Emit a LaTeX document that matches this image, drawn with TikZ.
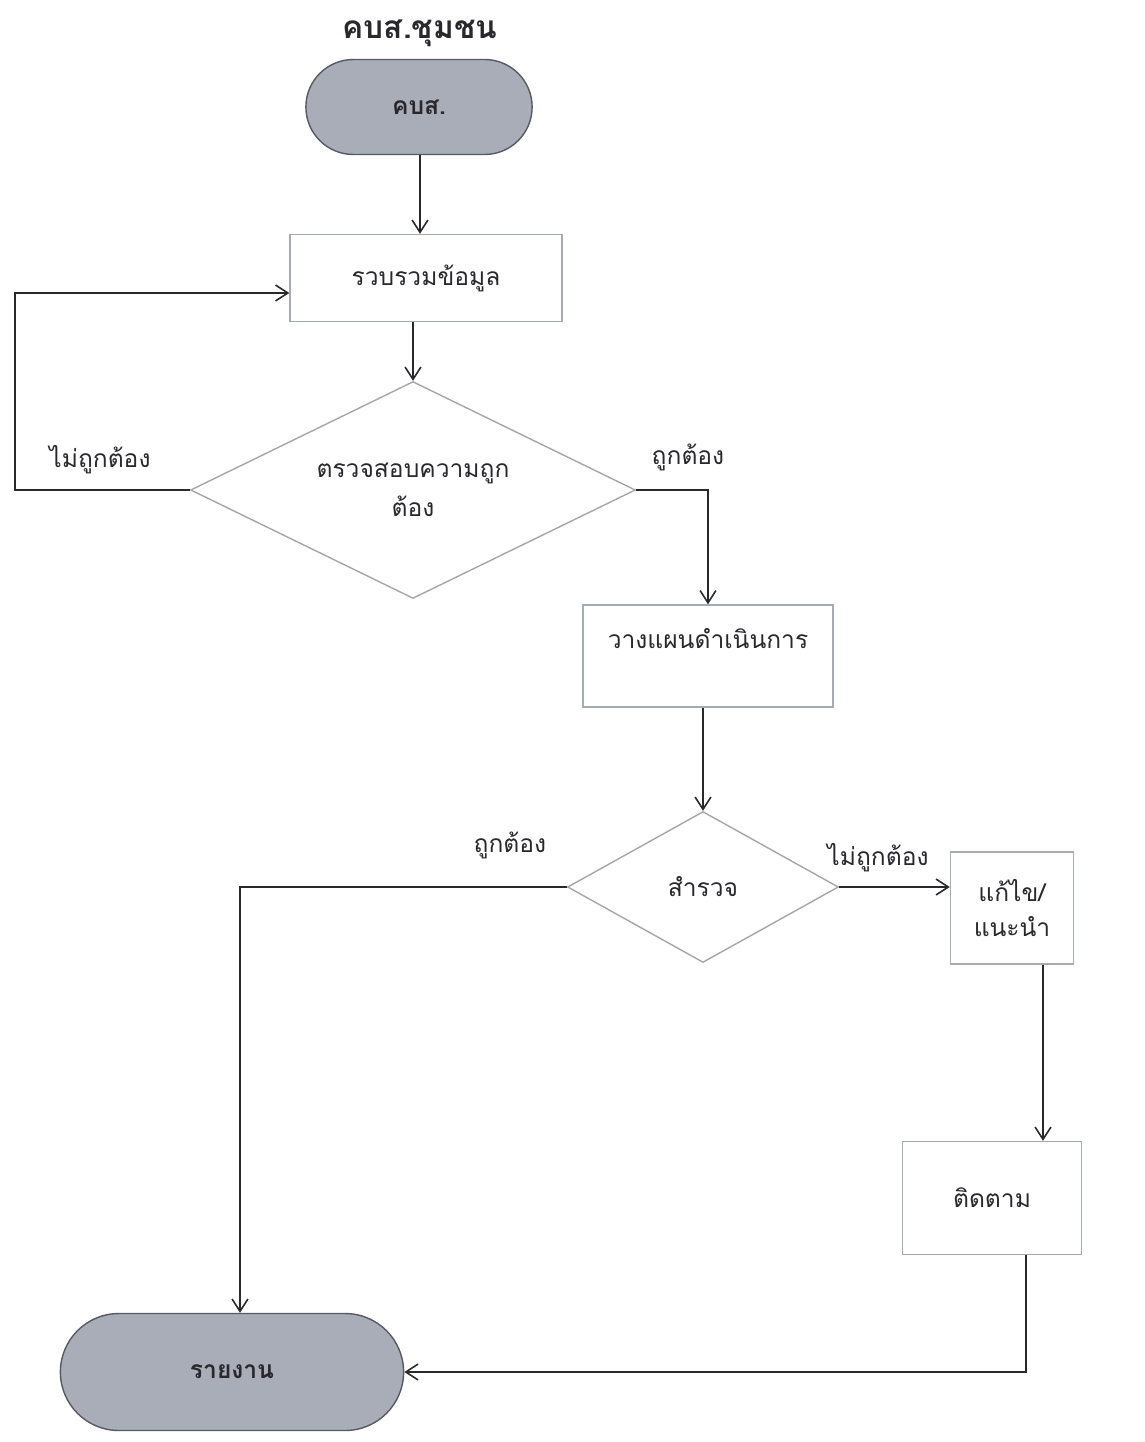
\documentclass[tikz,border=0pt]{standalone}
\usepackage{fontspec}
\setmainfont[Script=Thai]{Loma}
\usetikzlibrary{shapes.geometric,shapes.misc,arrows.meta}
\definecolor{boxline}{RGB}{165,170,185}
\definecolor{termfill}{RGB}{168,173,184}
\definecolor{termline}{RGB}{85,90,100}
\definecolor{ink}{RGB}{40,40,45}
\begin{document}
\begin{tikzpicture}[x=0.02cm,y=-0.02cm,
  >={Straight Barb[length=7pt,width=9pt]},
  term/.style={draw=termline, thick, fill=termfill, rounded rectangle, font=\bfseries\fontsize{14}{16}\selectfont, text=ink},
  stepbox/.style={draw=boxline, thick, rectangle, font=\fontsize{14}{20}\selectfont, text=ink, align=center},
  decide/.style={draw=gray!70, thick, diamond, font=\fontsize{14}{22}\selectfont, text=ink, align=center, inner sep=0pt},
  lbl/.style={font=\fontsize{14}{16}\selectfont, text=ink},
  line/.style={draw=ink, line width=0.9pt}]
\useasboundingbox (0,0) rectangle (1144,1442);
\node[font=\bfseries\fontsize{18}{20}\selectfont, text=ink] (title) at (420,33) {คบส.ชุมชน};
\node[term, minimum width=4.76cm, minimum height=1.9cm] (kbs) at (419,107) {คบส.};
\node[stepbox, minimum width=5.44cm, minimum height=1.74cm] (collect) at (426,278) {รวบรวมข้อมูล};
\node[decide, aspect=2.05, minimum width=8.9cm, minimum height=4.34cm] (check) at (413,490) {ตรวจสอบความถูก\\ต้อง};
\node[stepbox, minimum width=5cm, minimum height=2.04cm, text height=0.45cm, text depth=0.75cm] (plan) at (708,656) {วางแผนดำเนินการ};
\node[decide, aspect=1.8, minimum width=5.42cm, minimum height=3.02cm] (survey) at (703,887) {สำรวจ};
\node[stepbox, minimum width=2.46cm, minimum height=2.24cm] (fix) at (1012,908) {แก้ไข/\\แนะนำ};
\node[stepbox, minimum width=3.58cm, minimum height=2.26cm] (follow) at (992,1198) {ติดตาม};
\node[term, minimum width=7.1cm, minimum height=2.34cm] (report) at (232,1372) {รายงาน};
\coordinate (loopcorner) at (15,490);
\node[lbl] (no1) at (100,460) {ไม่ถูกต้อง};
\node[lbl] (yes1) at (688,457) {ถูกต้อง};
\node[lbl] (yes2) at (510,845) {ถูกต้อง};
\node[lbl] (no2) at (878,858) {ไม่ถูกต้อง};
\path[line,->] (kbs.south -| 420,0) -- (collect.north -| 420,0);
\path[line,->] (check.north |- collect.south) -- (check.north);
\path[line,->] (check.west) -- (loopcorner) |- ([yshift=-0.3cm]collect.west);
\path[line,->] (check.east) -| (plan.north);
\path[line,->] (survey.north |- plan.south) -- (survey.north);
\path[line,->] (survey.west) -| ([xshift=0.16cm]report.north);
\path[line,->] (survey.east) -- (survey.east -| fix.west);
\path[line,->] ([xshift=0.62cm]fix.south) -- ([xshift=0.62cm]fix.south |- follow.north);
\path[line,->] ([xshift=0.68cm]follow.south) |- (report.east);
\end{tikzpicture}
\end{document}
